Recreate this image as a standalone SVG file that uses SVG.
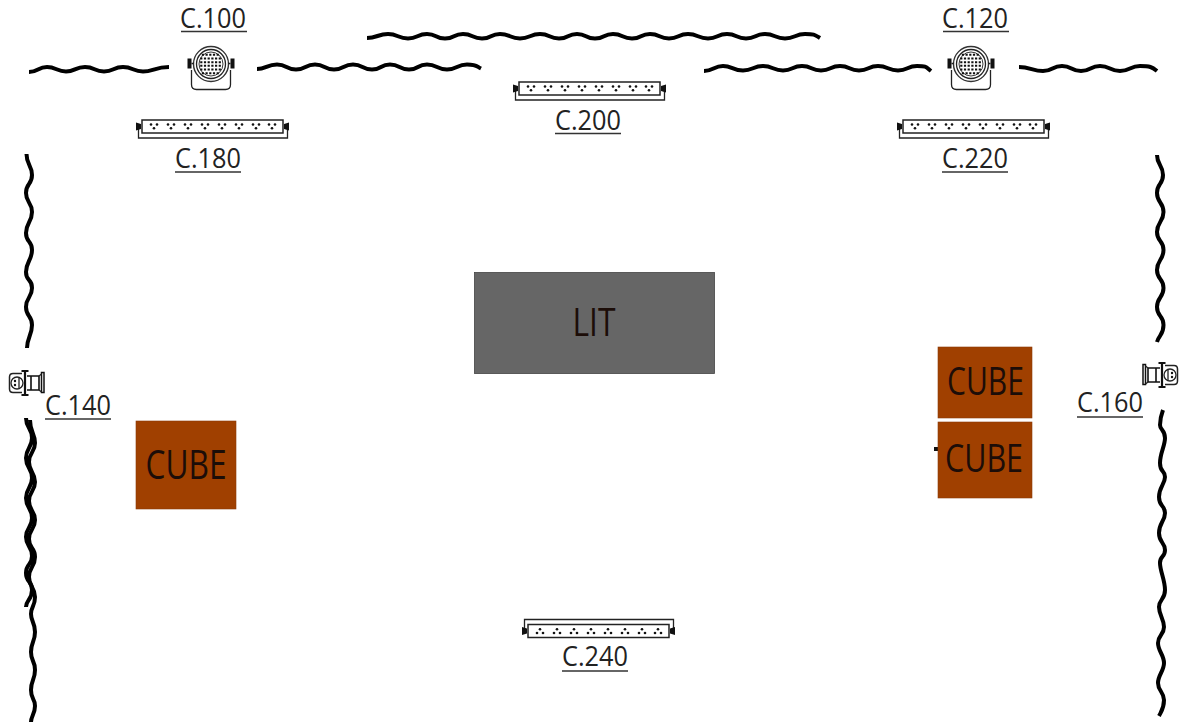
<svg xmlns="http://www.w3.org/2000/svg" width="1184" height="726" viewBox="0 0 1184 726">
<style>
.lbl{font-family:"Open Sans","Liberation Sans",sans-serif;font-size:28px;fill:#222}
.ul{stroke:#333;stroke-width:1.6;fill:none}
.cv{fill:none;stroke:#000;stroke-width:4;stroke-linejoin:round}
.th{fill:none;stroke:#222;stroke-width:1.3}
.box{font-family:"Open Sans","Liberation Sans",sans-serif;fill:#1c0d08;text-anchor:middle}
.cube{fill:#a04000;stroke:#8a3a08;stroke-width:.6}
</style>
<defs>
<g id="par">
<path class="th" d="M-19.500 6V20.500Q-19.500 25.500 -14.500 25.500H14.500Q19.500 25.500 19.500 20.500V6"/>
<circle r="17.500" fill="#fff" stroke="#333" stroke-width="1.400"/>
<circle r="14.500" fill="#fff" stroke="#222" stroke-width="1.300"/>
<circle r="12" fill="#fff" stroke="#222" stroke-width=".9"/>
<path stroke="#111" stroke-width="2" stroke-dasharray="2.200 1.500" fill="none" d="M-9.200-9.200H9.200M-10.800-5.500H10.800M-10.800-1.800H10.800M-10.800 1.800H10.800M-10.800 5.500H10.800M-9.200 9.200H9.200"/>
<rect x="-23.500" y="-5.500" width="4" height="10" fill="#111"/>
<rect x="19.500" y="-5.500" width="4" height="10" fill="#111"/>
<path class="th" d="M-19.500-0.500H-17M17-0.500H19.500"/>
</g>
<g id="tri"><circle cx="-3" cy="-1.500" r="1.300"/><circle cx="3" cy="-1.500" r="1.300"/><circle cy="2.200" r="1.300"/></g>
<g id="strip">
<path class="th" d="M138.500 125V138H287.500V125"/>
<rect x="142" y="120" width="141" height="13" fill="#fff" stroke="#222" stroke-width="1.500"/>
<path fill="#111" d="M136 122.500l5 1.500v5l-5 1.500zM289 122.500l-5 1.500v5l5 1.500z"/>
<g fill="#111">
<use href="#tri" x="154" y="126"/><use href="#tri" x="171" y="126"/><use href="#tri" x="188" y="126"/><use href="#tri" x="205" y="126"/>
<use href="#tri" x="222" y="126"/><use href="#tri" x="239" y="126"/><use href="#tri" x="256" y="126"/><use href="#tri" x="272" y="126"/>
</g>
</g>
<g id="side">
<path fill="none" stroke="#222" stroke-width="1.500" d="M22 373.500H13Q9.500 373.500 9.500 377V389Q9.500 392.500 13 392.500H22"/>
<circle cx="17" cy="383" r="6" fill="#fff" stroke="#222" stroke-width="1.300"/>
<circle cx="15" cy="381" r="1.200" fill="#111"/><circle cx="15" cy="385" r="1.200" fill="#111"/><path class="th" d="M19 378V388"/>
<path stroke="#111" stroke-width="2.200" d="M25 370V396M21.500 371H28.500M21.500 395H28.500"/>
<path fill="none" stroke="#111" stroke-width="1.600" d="M27 376H39V390H27M31 376V390"/>
<rect x="41.500" y="372.500" width="2.500" height="20" fill="#fff" stroke="#111" stroke-width="1.500"/>
<path class="th" d="M39 376L41.500 374M39 390L41.500 392"/>
</g>
</defs>
<rect width="1184" height="726" fill="#fff"/>

<g id="connectors">
<path id="curtain-top-a" class="cv" d="M29 72C38 72 38 67 47 67S57 71.500 66 71.500S75 67 85 67S94 71.500 104 71.500S113 67 123 67S133 71.500 143 71.500S155 67 169 67"/>
<path id="curtain-top-b" class="cv" d="M257 69C266 69 267 64.500 277 64.500S286 69.500 296 69.500S305 64.500 315 64.500S324 69.500 334 69.500S343 64.500 353 64.500S362 69.500 372 69.500S380 64.500 390 64.500S399 69.500 409 69.500S417 64.500 427 64.500S437 69.500 447 69.500S457 64.500 467 64.500S476 66 481 68.500"/>
<path id="curtain-top-c" class="cv" d="M367 38C377 38 378 34 388 34S398 38.500 408 38.500S417 34 427 34S435 38.500 445 38.500S453 34 463 34S472 38.500 482 38.500S490 34 500 34S510 38.500 520 38.500S530 34 540 34S549 38.500 559 38.500S567 34 577 34S585 38.500 595 38.500S603 34 613 34S622 38.500 632 38.500S640 34 650 34S659 38.500 669 38.500S678 34 688 34S698 38.500 708 38.500S717 34 727 34S736 38.500 746 38.500S755 34 765 34S775 38.500 785 38.500S795 34 805 34S815 35 820 38"/>
<path id="curtain-top-d" class="cv" d="M704 71C713 71 714 66 723 66S733 70.500 743 70.500S753 66 763 66S773 70.500 783 70.500S792 66 802 66S811 70.500 821 70.500S830 66 840 66S849 70.500 859 70.500S868 66 878 66S888 70.500 898 70.500S907 66 917 66S926 67 931 71"/>
<path id="curtain-top-e" class="cv" d="M1019 67C1030 67 1033 71 1043 71S1052 66 1062 66S1071 71 1081 71S1090 66 1100 66S1110 71 1120 71S1130 66 1140 66S1152 67 1157 71"/>
<path id="curtain-left-a" class="cv" d="M26.500 154C26.500 165 32 165 32 175S26 183 26 193S32 202 32 212S26 223 26 233S32 240 32 250S26 262 26 272S32 278 32 288S26 297 26 307S32 315 32 325S27 338 27 348"/>
<path id="curtain-left-b1" class="cv" d="M26 418C26 428 32 428 32 438S26 448 26 458S32 468 32 478S26 488 26 498S32 508 32 518S26 527 26 537S32 546 32 556S26 563 26 573S32 580 32 590S26 600 26 607"/>
<path id="curtain-left-b2" class="cv" d="M30 420C30 432 35 433 35 443S29 452 29 462S35 472 35 482S29 491 29 501S35 510 35 520S29 529 29 539S35 547 35 557S29 567 29 577S35 587 35 597S31 606 31 614S35 622 35 632S31 642 31 652S35 660 35 670S31 680 31 690S35 698 35 706S31 716 31 722"/>
<path id="curtain-right-a" class="cv" d="M1157 155C1157 165 1163 165 1163 175S1157 183 1157 193S1163.500 202 1163.500 212S1157 222 1157 232S1163.500 240 1163.500 250S1157 260 1157 270S1163.500 278 1163.500 288S1157 297 1157 307S1163.500 315 1163.500 325S1159 335 1157 342"/>
<path id="curtain-right-b" class="cv" d="M1163 410C1160 418 1160 420 1160 425S1165 430 1165 438S1160 453 1160 463S1165 470 1165 477S1159 487 1159 497S1165 505 1165 513S1159 523 1159 533S1165 542 1165 550S1160 555 1160 563S1165 580 1165 590S1159 599 1159 607S1164 619 1164 627S1158 635 1158 643S1164 655 1164 663S1158 675 1158 683S1164 692 1164 700S1162 710 1159 716"/>
</g>

<g id="lamp-c100"><use href="#par" x="211" y="64"/><path class="ul" d="M181 31.500H247"/><text class="lbl" x="180" y="28" textLength="66" lengthAdjust="spacingAndGlyphs">C.100</text></g>
<g id="lamp-c120"><use href="#par" x="971" y="64"/><path class="ul" d="M943 31.500H1009"/><text class="lbl" x="942" y="28" textLength="66" lengthAdjust="spacingAndGlyphs">C.120</text></g>
<g id="lamp-c180"><use href="#strip"/><path class="ul" d="M175 172H241"/><text class="lbl" x="175" y="168" textLength="66" lengthAdjust="spacingAndGlyphs">C.180</text></g>
<g id="lamp-c200"><use href="#strip" transform="translate(377,-38)"/><path class="ul" d="M555 133.500H621"/><text class="lbl" x="555" y="130" textLength="66" lengthAdjust="spacingAndGlyphs">C.200</text></g>
<g id="lamp-c220"><use href="#strip" transform="translate(761,0)"/><path class="ul" d="M942 172H1008"/><text class="lbl" x="942" y="168" textLength="66" lengthAdjust="spacingAndGlyphs">C.220</text></g>
<g id="lamp-c240"><use href="#strip" transform="translate(386,757.500) scale(1,-1)"/><path class="ul" d="M562 671H628"/><text class="lbl" x="562" y="666" textLength="66" lengthAdjust="spacingAndGlyphs">C.240</text></g>
<g id="lamp-c140"><use href="#side"/><path class="ul" d="M45 419H111"/><text class="lbl" x="45" y="415" textLength="66" lengthAdjust="spacingAndGlyphs">C.140</text></g>
<g id="lamp-c160"><use href="#side" transform="translate(1187,-8) scale(-1,1)"/><path class="ul" d="M1077 417H1143"/><text class="lbl" x="1077" y="412" textLength="66" lengthAdjust="spacingAndGlyphs">C.160</text></g>

<g id="lit"><rect x="474.500" y="272.500" width="240" height="101" fill="#666" stroke="#444" stroke-width=".8"/><text class="box" x="594" y="336" font-size="38" textLength="43" lengthAdjust="spacingAndGlyphs">LIT</text></g>
<g id="cube-left"><rect class="cube" x="136" y="421" width="100" height="88"/><text class="box" x="186" y="479" font-size="40" textLength="81" lengthAdjust="spacingAndGlyphs">CUBE</text></g>
<g id="cube-right-1"><rect class="cube" x="938" y="347" width="94" height="71"/><text class="box" x="985.500" y="395" font-size="38" textLength="77" lengthAdjust="spacingAndGlyphs">CUBE</text></g>
<g id="cube-right-2"><rect x="934" y="447" width="4" height="4" fill="#111"/><rect class="cube" x="938" y="422" width="94" height="76"/><text class="box" x="984" y="472" font-size="38" textLength="78" lengthAdjust="spacingAndGlyphs">CUBE</text></g>
</svg>
